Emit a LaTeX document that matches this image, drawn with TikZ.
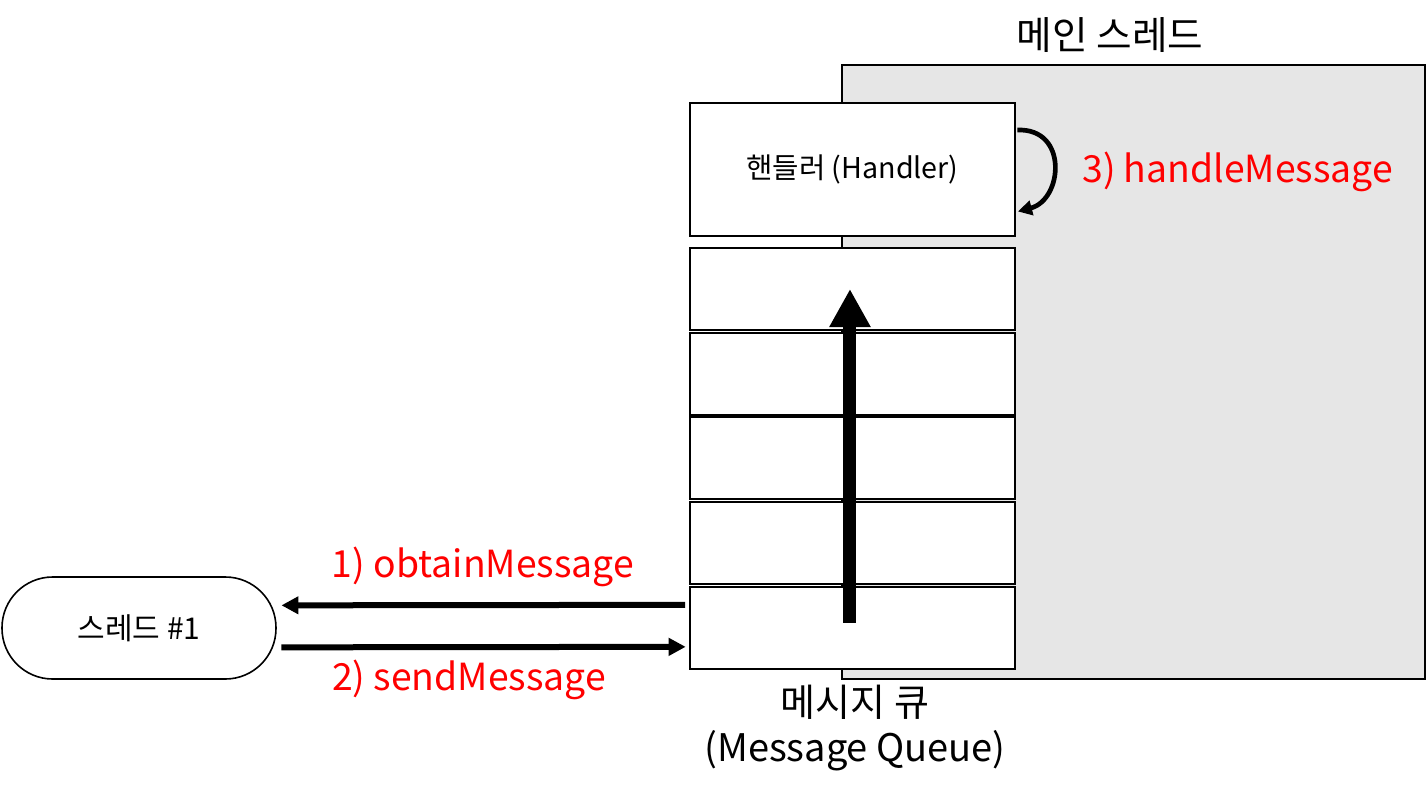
\documentclass[tikz,border=0pt]{standalone}
\usepackage{fontspec}
\setmainfont{Noto Sans CJK KR}
\usetikzlibrary{arrows.meta}
\tikzset{
  cell/.style={draw=black, line width=1.5pt, fill=white, minimum width=243.75pt, minimum height=61.5pt, inner sep=0pt},
  handlerbox/.style={draw=black, line width=1.5pt, fill=white, minimum width=243.75pt, minimum height=99.75pt, inner sep=0pt, font=\fontsize{21.5}{26}\selectfont},
  threadbox/.style={draw=black, line width=1.2pt, fill=white, rounded corners=38pt, minimum width=205.5pt, minimum height=76.5pt, inner sep=0pt, font=\fontsize{22.5}{26}\selectfont},
  msg/.style={line width=4.5pt, -{Triangle[length=12.75pt,width=12.75pt]}},
  bigarrow/.style={line width=9.75pt, -{Triangle[length=28.5pt,width=29pt]}},
  loopar/.style={line width=3.5pt, -{Triangle[length=10.5pt,width=11pt]}},
  redlabel/.style={text=red, inner sep=0pt, font=\fontsize{28}{32}\selectfont},
  blacklabel/.style={inner sep=0pt, font=\fontsize{29}{34}\selectfont},
  qlab/.style={inner sep=0pt, align=center, font=\fontsize{28.5}{33.75}\selectfont},
}
\begin{document}
\begin{tikzpicture}[x=0.75pt, y=-0.75pt]
\useasboundingbox (0,0) rectangle (1427,796);
% main thread area
\path[draw=black, line width=1.5pt, fill={rgb,255:red,230;green,230;blue,230}] (842,65) rectangle (1425,679);
\node[blacklabel] (title) at (1110,35) {메인 스레드};
% handler
\node[handlerbox] (handler) at (852.5,169.5) {핸들러 (Handler)};
% queue cells
\node[cell] (q1) at (852.5,289) {};
\node[cell] (q2) at (852.5,373.5) {};
\node[cell] (q3) at (852.5,458) {};
\node[cell] (q4) at (852.5,543) {};
\node[cell] (q5) at (852.5,627.5) {};
\node[qlab] (qlabel) at (855,728) {메시지 큐\\(Message Queue)};
% thread
\node[threadbox] (thread) at (139,628) {스레드 \#1};
% arrows
\draw[bigarrow] ([xshift=-1.9pt,yshift=3.4pt]q5.center) -- ([xshift=-1.9pt]q1.center);
\draw[msg, shorten <=3pt, shorten >=3.5pt] ([yshift=17pt]q5.west) -- ([yshift=17pt]thread.east);
\draw[msg, shorten <=3.5pt, shorten >=2.5pt] ([yshift=-14.5pt]thread.east) -- ([yshift=-14.5pt]q5.west);
\draw[loopar] ([xshift=1.1pt,yshift=29.6pt]handler.east) .. controls +(38.25pt,1.5pt) and +(33.75pt,9pt) .. ([xshift=1.5pt,yshift=-31.5pt]handler.east);
% labels
\node[redlabel] (l1) at (483,567) {1) obtainMessage};
\node[redlabel] (l2) at (469,680) {2) sendMessage};
\node[redlabel, anchor=west] (l3) at (1082,172) {3) handleMessage};
\end{tikzpicture}
\end{document}
